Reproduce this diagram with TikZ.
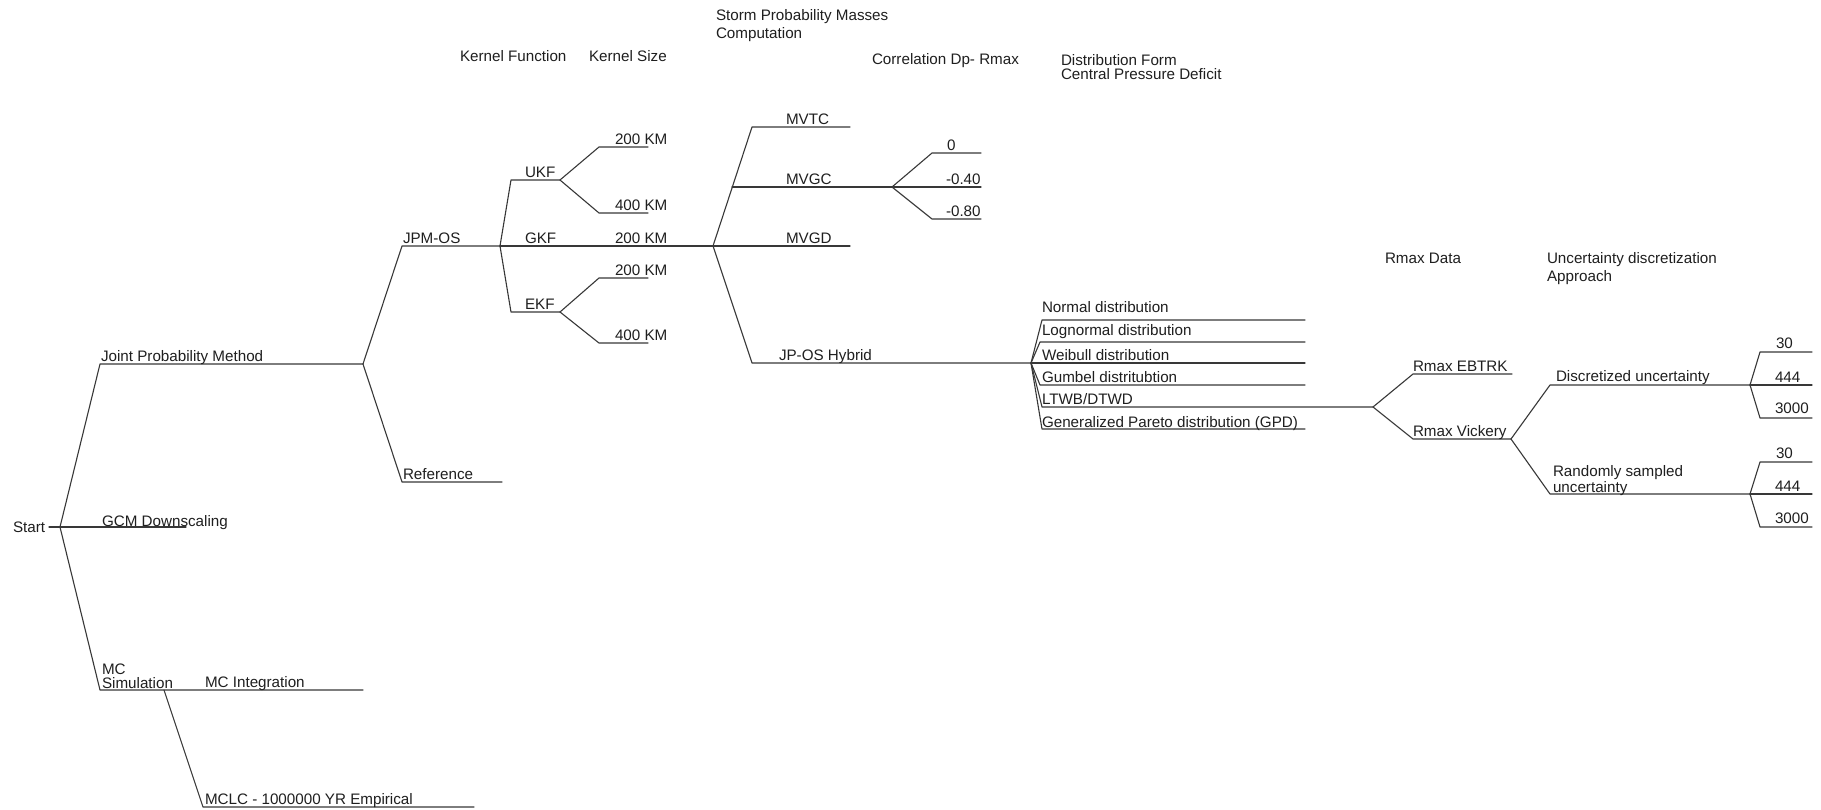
\documentclass[tikz,border=0pt]{standalone}
\usepackage{fontspec}
\setmainfont{Liberation Sans}
\begin{document}
\begin{tikzpicture}[x=1pt,y=-1pt,
  lbl/.style={anchor=base west, inner sep=0pt, outer sep=0pt, text=black!88,
    font=\fontsize{15.2}{18}\selectfont},
  lbl2/.style={lbl, align=left, font=\fontsize{15.2}{14}\selectfont},
  hdr/.style={lbl, align=left, font=\fontsize{15.2}{18}\selectfont},
  br/.style={draw=black!78, line width=1.1pt, line cap=round, line join=round}]
\useasboundingbox[fill=white] (0,0) rectangle (1821,809);

% ---------- headers (multi-line: anchor at last baseline) ----------
\node[hdr] (hKF) at (460,61.5) {Kernel Function};
\node[hdr] (hKS) at (589,61.5) {Kernel Size};
\node[hdr] (hSP) at (716,38) {Storm Probability Masses\\Computation};
\node[hdr] (hCO) at (872,64) {Correlation Dp- Rmax};
\node[lbl2] (hDF) at (1061,79) {Distribution Form\\Central Pressure Deficit};
\node[hdr] (hRD) at (1385,263.5) {Rmax Data};
\node[hdr] (hUA) at (1547,281) {Uncertainty discretization\\Approach};

% ---------- coordinates ----------
\coordinate (Sd) at (49,527);  \coordinate (S) at (60,527);
\coordinate (J0) at (100,364); \coordinate (J1) at (363,364);
\coordinate (G1) at (186,527);
\coordinate (M0) at (100,690); \coordinate (M1) at (363,690);
\coordinate (MB) at (164,690); \coordinate (L0) at (203,807); \coordinate (L1) at (474,807);
\coordinate (P0) at (402,246); \coordinate (K) at (500,246);
\coordinate (R0) at (402,482); \coordinate (R1) at (502,482);
\coordinate (U0) at (511,180); \coordinate (U1) at (560,180);
\coordinate (E0) at (511,312); \coordinate (E1) at (560,312);
\coordinate (UA0) at (599,147); \coordinate (UA1) at (648,147);
\coordinate (UB0) at (599,213); \coordinate (UB1) at (648,213);
\coordinate (EA0) at (599,278); \coordinate (EA1) at (648,278);
\coordinate (EB0) at (599,343); \coordinate (EB1) at (648,343);
\coordinate (ST) at (713,246);
\coordinate (T0) at (752,127); \coordinate (T1) at (850,127);
\coordinate (GC0) at (732,187); \coordinate (CS) at (892,187); \coordinate (GC1) at (981,187);
\coordinate (C00) at (932,153); \coordinate (C01) at (981,153);
\coordinate (C80) at (932,219); \coordinate (C81) at (981,219);
\coordinate (GD1) at (850,246);
\coordinate (H0) at (752,363); \coordinate (D) at (1031,363);
\coordinate (N0) at (1042,320); \coordinate (N1) at (1305,320);
\coordinate (LN0) at (1040,342); \coordinate (LN1) at (1305,342);
\coordinate (W1) at (1305,363);
\coordinate (GU0) at (1040,385); \coordinate (GU1) at (1305,385);
\coordinate (LT0) at (1042,407); \coordinate (RS) at (1373,407);
\coordinate (GP0) at (1042,429); \coordinate (GP1) at (1305,429);
\coordinate (EB0r) at (1413,374); \coordinate (EB1r) at (1512,374);
\coordinate (V0) at (1413,439); \coordinate (VS) at (1511,439);
\coordinate (DU0) at (1550,385); \coordinate (DS) at (1750,385);
\coordinate (RU0) at (1550,494); \coordinate (RSP) at (1750,494);
\coordinate (D30a) at (1760,352); \coordinate (D30b) at (1812,352);
\coordinate (D44b) at (1812,385);
\coordinate (D3a) at (1760,418); \coordinate (D3b) at (1812,418);
\coordinate (R30a) at (1760,462); \coordinate (R30b) at (1812,462);
\coordinate (R44b) at (1812,494);
\coordinate (R3a) at (1760,527); \coordinate (R3b) at (1812,527);

% ---------- connectors ----------
\draw[br] (Sd) -- (S);
\draw[br] (S) -- (J0) -- (J1);
\draw[br] (S) -- (G1);
\draw[br] (S) -- (M0) -- (M1);
\draw[br] (MB) -- (L0) -- (L1);
\draw[br] (J1) -- (P0) -- (K);
\draw[br] (J1) -- (R0) -- (R1);
\draw[br] (K) -- (U0) -- (U1);
\draw[br] (K) -- (E0) -- (E1);
\draw[br] (K) -- (ST);
\draw[br] (U1) -- (UA0) -- (UA1);
\draw[br] (U1) -- (UB0) -- (UB1);
\draw[br] (E1) -- (EA0) -- (EA1);
\draw[br] (E1) -- (EB0) -- (EB1);
\draw[br] (ST) -- (T0) -- (T1);
\draw[br] (GC0) -- (CS) -- (GC1);
\draw[br] (CS) -- (C00) -- (C01);
\draw[br] (CS) -- (C80) -- (C81);
\draw[br] (ST) -- (GD1);
\draw[br] (ST) -- (H0) -- (D);
\draw[br] (D) -- (N0) -- (N1);
\draw[br] (D) -- (LN0) -- (LN1);
\draw[br] (D) -- (W1);
\draw[br] (D) -- (GU0) -- (GU1);
\draw[br] (D) -- (LT0) -- (RS);
\draw[br] (D) -- (GP0) -- (GP1);
\draw[br] (RS) -- (EB0r) -- (EB1r);
\draw[br] (RS) -- (V0) -- (VS);
\draw[br] (VS) -- (DU0) -- (DS);
\draw[br] (VS) -- (RU0) -- (RSP);
\draw[br] (DS) -- (D30a) -- (D30b);
\draw[br] (DS) -- (D44b);
\draw[br] (DS) -- (D3a) -- (D3b);
\draw[br] (RSP) -- (R30a) -- (R30b);
\draw[br] (RSP) -- (R44b);
\draw[br] (RSP) -- (R3a) -- (R3b);

% ---------- labels ----------
\node[lbl] (tStart) at (13,532) {Start};
\node[lbl] (tJPM) at (101,361) {Joint Probability Method};
\node[lbl] (tGCM) at (102,526) {GCM Downscaling};
\node[lbl2] (tMCS) at (102,688) {MC\\Simulation};
\node[lbl] (tMCI) at (205,687) {MC Integration};
\node[lbl] (tMCLC) at (205,804) {MCLC - 1000000 YR Empirical};
\node[lbl] (tJOS) at (403,243.5) {JPM-OS};
\node[lbl] (tRef) at (403,479.5) {Reference};
\node[lbl] (tUKF) at (525,177.5) {UKF};
\node[lbl] (tGKF) at (525,243.5) {GKF};
\node[lbl] (tEKF) at (525,309.5) {EKF};
\node[lbl] (tU2) at (615,144.5) {200 KM};
\node[lbl] (tU4) at (615,210.5) {400 KM};
\node[lbl] (tG2) at (615,243.5) {200 KM};
\node[lbl] (tE2) at (615,275.5) {200 KM};
\node[lbl] (tE4) at (615,340.5) {400 KM};
\node[lbl] (tMVTC) at (786,124.5) {MVTC};
\node[lbl] (tMVGC) at (786,184.5) {MVGC};
\node[lbl] (tMVGD) at (786,243.5) {MVGD};
\node[lbl] (tHyb) at (779,360.5) {JP-OS Hybrid};
\node[lbl] (tC0) at (947,150.5) {0};
\node[lbl] (tC4) at (946,184.5) {-0.40};
\node[lbl] (tC8) at (946,216.5) {-0.80};
\node[lbl] (tNor) at (1042,312) {Normal distribution};
\node[lbl] (tLog) at (1042,335) {Lognormal distribution};
\node[lbl] (tWei) at (1042,360) {Weibull distribution};
\node[lbl] (tGum) at (1042,382) {Gumbel distritubtion};
\node[lbl] (tLTW) at (1042,404) {LTWB/DTWD};
\node[lbl] (tGPD) at (1042,427) {Generalized Pareto distribution (GPD)};
\node[lbl] (tEBT) at (1413,371.5) {Rmax EBTRK};
\node[lbl] (tVic) at (1413,436.5) {Rmax Vickery};
\node[lbl] (tDis) at (1556,381) {Discretized uncertainty};
\node[lbl2] (tRan) at (1553,492) {Randomly sampled\\uncertainty};
\node[lbl] (tD30) at (1776,348) {30};
\node[lbl] (tD44) at (1775,382.5) {444};
\node[lbl] (tD3k) at (1775,413) {3000};
\node[lbl] (tR30) at (1776,458) {30};
\node[lbl] (tR44) at (1775,491.5) {444};
\node[lbl] (tR3k) at (1775,523) {3000};
\end{tikzpicture}
\end{document}
